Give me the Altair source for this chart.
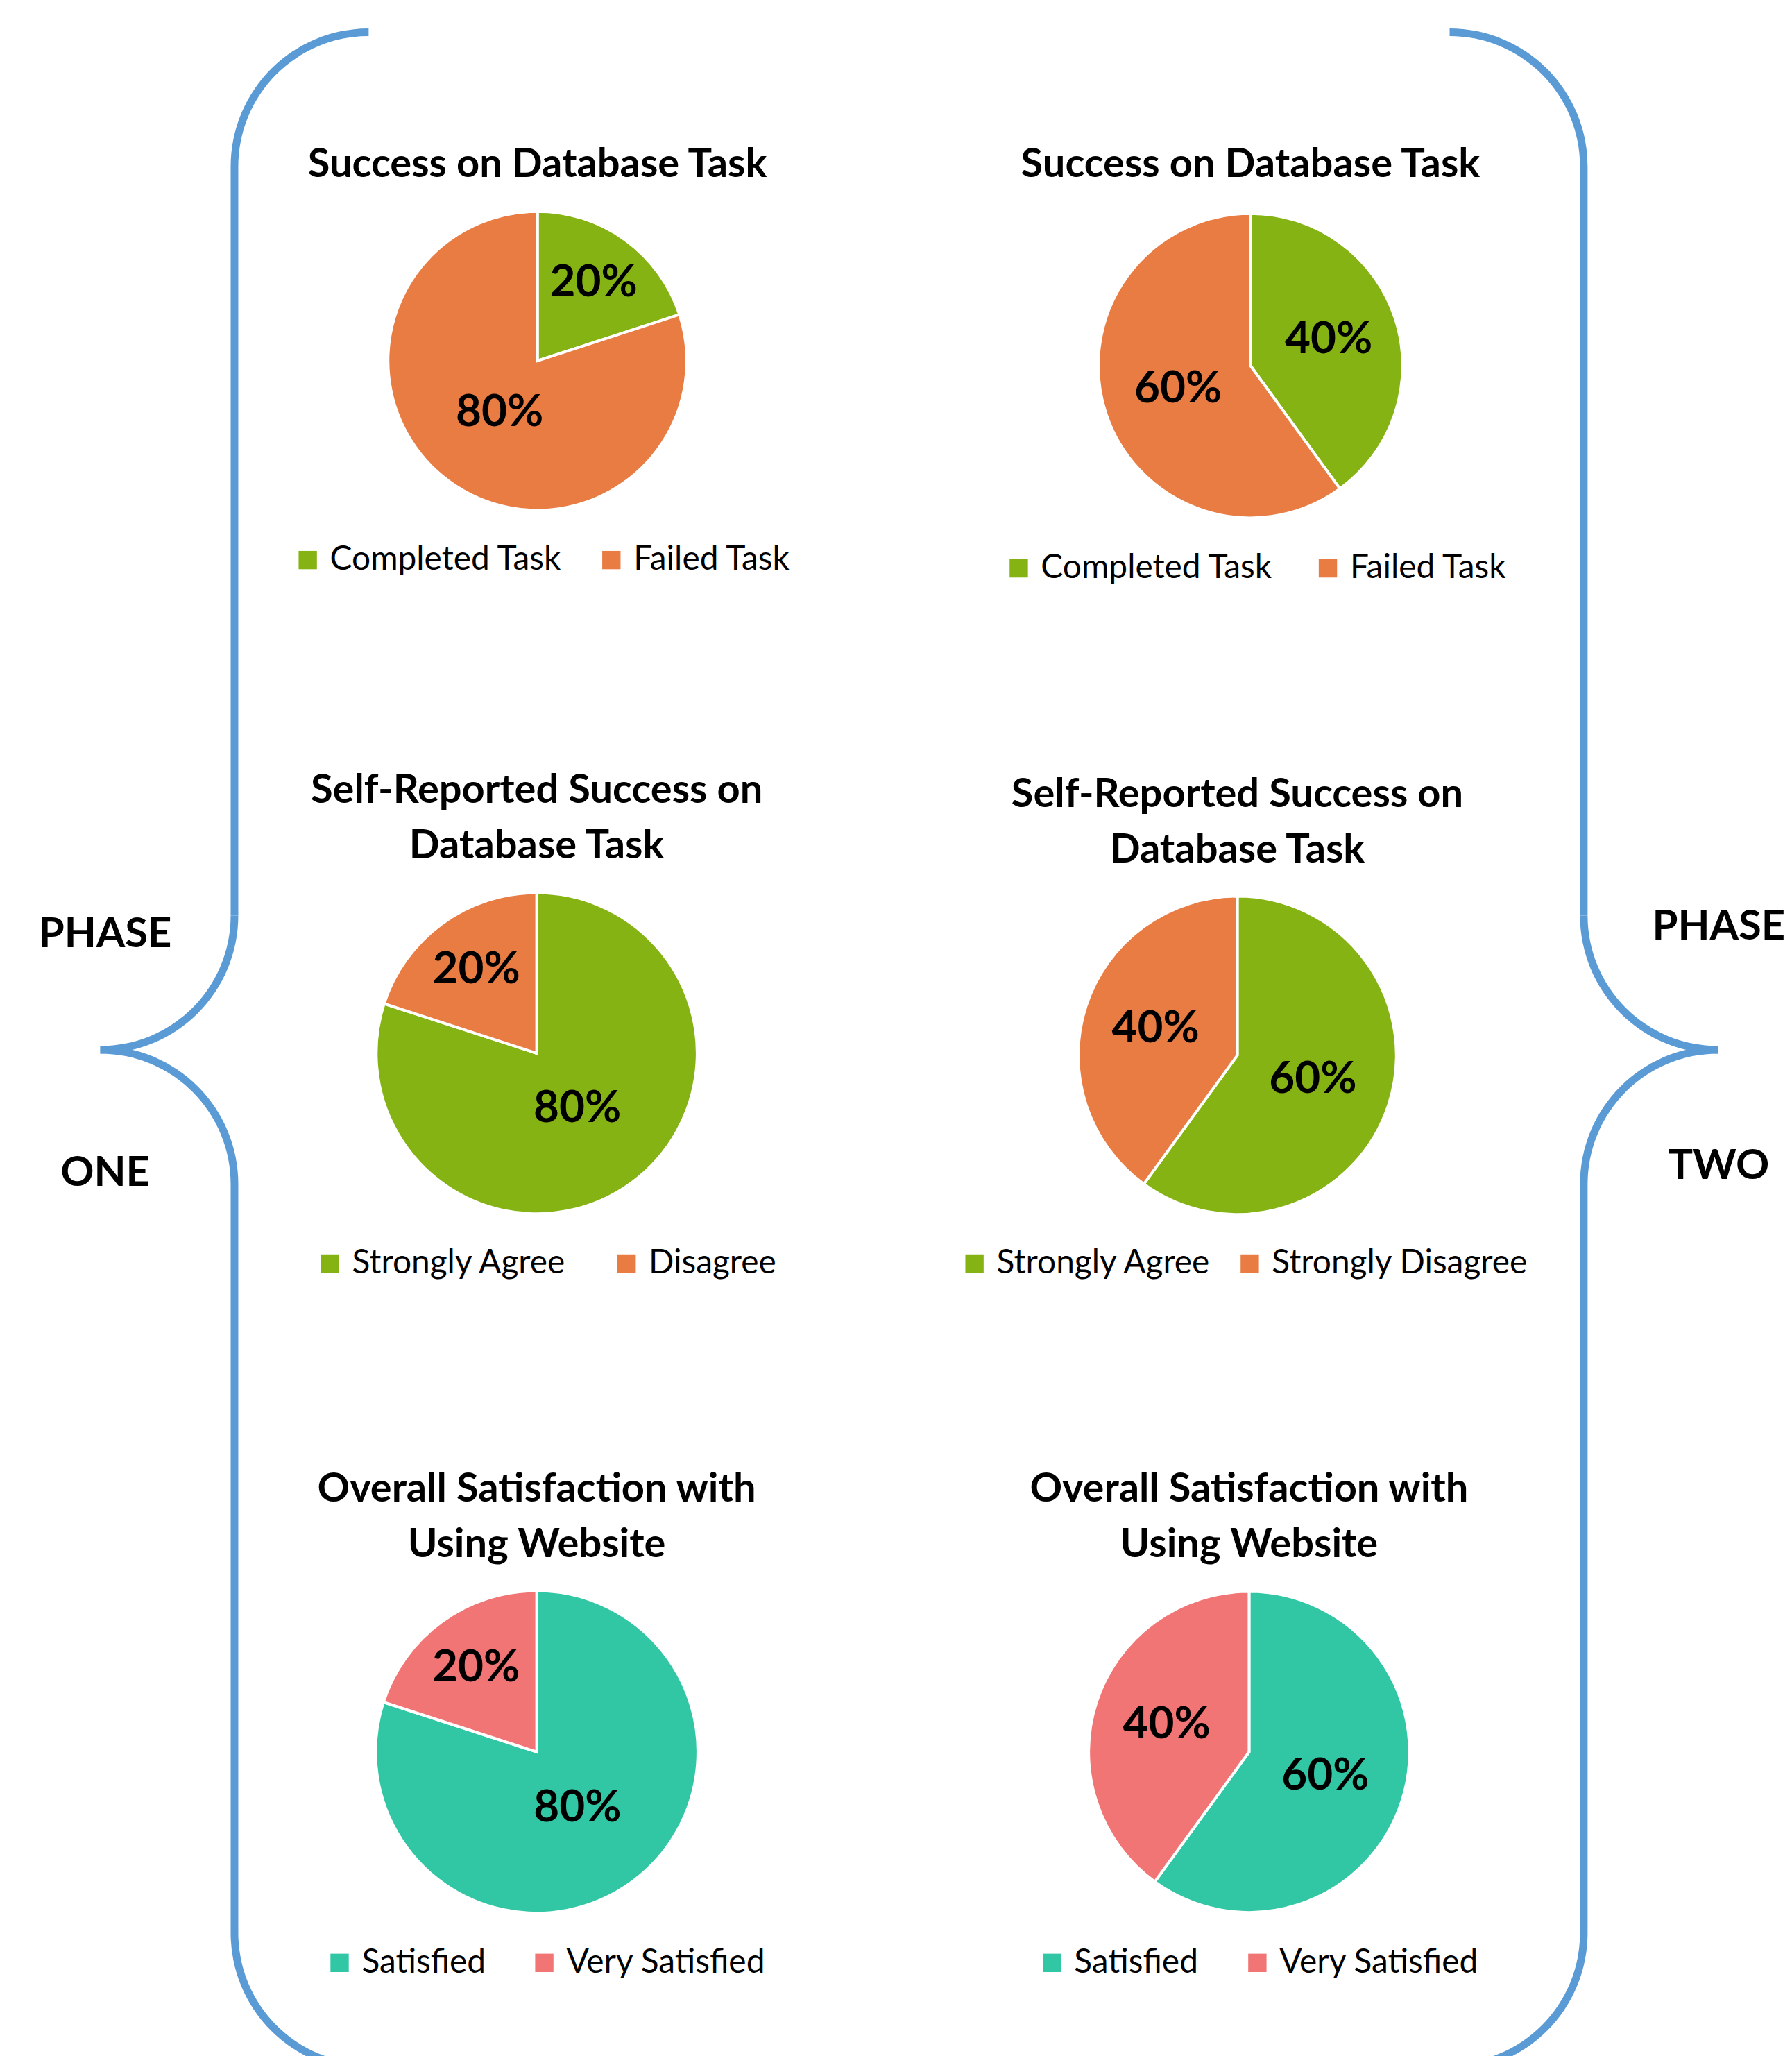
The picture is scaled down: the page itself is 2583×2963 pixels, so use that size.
import math
import altair as alt
import pandas as pd

# ---------------- data ----------------
title_lines = [
    ["Success on Database Task"],
    ["Self-Reported Success on", "Database Task"],
    ["Overall Satisfaction with", "Using Website"],
]
phase_one_categories = [["Completed Task", "Failed Task"],
                        ["Strongly Agree", "Disagree"],
                        ["Satisfied", "Very Satisfied"]]
phase_one_values = [[20, 80], [80, 20], [80, 20]]
phase_two_categories = [["Completed Task", "Failed Task"],
                        ["Strongly Agree", "Strongly Disagree"],
                        ["Satisfied", "Very Satisfied"]]
phase_two_values = [[40, 60], [60, 40], [60, 40]]
phase_words = [["PHASE", "ONE"], ["PHASE", "TWO"]]

# ---------------- styles ----------------
palettes = [["#86B314", "#E87C43"], ["#86B314", "#E87C43"], ["#31C7A5", "#F07574"]]
BLUE = "#5B9BD5"
FONT = "Lato"
OFF = 8  # page margin

# ---------------- layout (reference pixel coordinates) ----------------
pie_cx = [[777, 776, 776], [1808, 1789, 1806]]
pie_cy = [[517, 1518, 2528], [524, 1521, 2528]]
pie_r = [[216, 232, 233], [220, 230, 232]]
title_base = [[251, 1156, 2166], [251, 1162, 2166]]
legend_x = [[430, 462, 476], [1458, 1394, 1506]]
legend_cy = [[805, 1822, 2833], [817, 1822, 2833]]
legend_gap = [[47, 62, 60], [55, 31, 61]]
phase_x = [152, 2485]
phase_y = [[1365, 1710], [1354, 1700]]

TITLE_SIZE = 58
LINE_H = 80
LABEL_SIZE = 64
LEGEND_SIZE = 48
PHASE_SIZE = 60
LEGEND_SHIFT = -9

layers = []


def pie(col, row, cats, vals):
    cx = pie_cx[col][row] - OFF
    cy = pie_cy[col][row] - OFF
    R = pie_r[col][row]
    df = pd.DataFrame({
        "category": cats,
        "value": vals,
        "order": list(range(len(cats))),
        "label": [f"{v}%" for v in vals],
    })
    base = alt.Chart(df)
    theta = alt.Theta("value:Q", stack=True)
    arc = base.mark_arc(x=cx, y=cy, outerRadius=R, stroke="white", strokeWidth=4).encode(
        theta=theta,
        order=alt.Order("order:Q"),
        color=alt.Color(
            "category:N",
            sort=cats,
            scale=alt.Scale(domain=cats, range=palettes[row]),
            legend=alt.Legend(
                orient="none",
                legendX=legend_x[col][row] - OFF + LEGEND_SHIFT,
                legendY=legend_cy[col][row] - OFF - LEGEND_SIZE / 2,
                direction="horizontal",
                title=None,
                symbolType="square",
                symbolSize=700,
                symbolStrokeWidth=0,
                labelFont=FONT,
                labelFontSize=LEGEND_SIZE,
                labelColor="#000000",
                labelOffset=8,
                labelLimit=0,
                columnPadding=legend_gap[col][row],
                padding=0,
            ),
        ),
    )
    txt = base.mark_text(x=cx, y=cy, font=FONT, fontSize=LABEL_SIZE, fontWeight="bold",
                         color="#000000").encode(
        theta=theta,
        order=alt.Order("order:Q"),
        radius=alt.Radius("value:Q", scale=alt.Scale(
            type="linear", zero=False, domain=[20, 40, 60, 80],
            range=[0.64 * R, 0.54 * R, 0.50 * R, 0.43 * R])),
        text="label:N",
    )
    layers.extend([arc, txt])
    for i, line in enumerate(title_lines[row]):
        t = alt.Chart(pd.DataFrame({"t": [line]})).mark_text(
            x=cx, y=title_base[col][row] - OFF + i * LINE_H, font=FONT, fontSize=TITLE_SIZE,
            fontWeight="bold", color="#000000", baseline="alphabetic", align="center",
        ).encode(text="t:N")
        layers.append(t)


for r in range(3):
    pie(0, r, phase_one_categories[r], phase_one_values[r])
    pie(1, r, phase_two_categories[r], phase_two_values[r])

# phase words
for c in range(2):
    for i, w in enumerate(phase_words[c]):
        layers.append(alt.Chart(pd.DataFrame({"t": [w]})).mark_text(
            x=phase_x[c] - OFF, y=phase_y[c][i] - OFF, font=FONT, fontSize=PHASE_SIZE,
            fontWeight="bold", color="#000000", baseline="alphabetic", align="center",
        ).encode(text="t:N"))

# ---------------- curly braces ----------------
BR = 194
BW = 11
P = math.pi
# (center x, center y, theta start, theta end)
brace_arcs = [
    # left brace
    (533, 236, 1.5 * P, 2 * P),
    (145, 1319, 0.5 * P, P),
    (145, 1707, 0, 0.5 * P),
    (533, 2790, P, 1.5 * P),
    # right brace
    (2096, 236, 0, 0.5 * P),
    (2484, 1319, P, 1.5 * P),
    (2484, 1707, 1.5 * P, 2 * P),
    (2096, 2790, 0.5 * P, P),
]
brace_lines = [(339, 236, 1319), (339, 1707, 2790), (2290, 236, 1319), (2290, 1707, 2790)]
one = pd.DataFrame({"k": [0]})
for (ax, ay, t1, t2) in brace_arcs:
    layers.append(alt.Chart(one).mark_arc(
        x=ax - OFF, y=ay - OFF, innerRadius=BR - BW / 2, outerRadius=BR + BW / 2,
        theta=t1, theta2=t2, strokeWidth=0,
    ).encode(color=alt.value(BLUE)))
for (lx, y1, y2) in brace_lines:
    layers.append(alt.Chart(one).mark_rule(strokeWidth=BW, color=BLUE).encode(
        x=alt.value(lx - OFF), y=alt.value(y1 - OFF), y2=alt.value(y2 - OFF)))

chart = alt.layer(*layers).resolve_scale(
    color="independent", theta="independent", radius="independent"
).properties(
    width=2575, height=2955, padding=0, autosize="none"
).configure_view(strokeWidth=0)

chart.save("out.html", embed_options={"renderer": "svg", "actions": False})
